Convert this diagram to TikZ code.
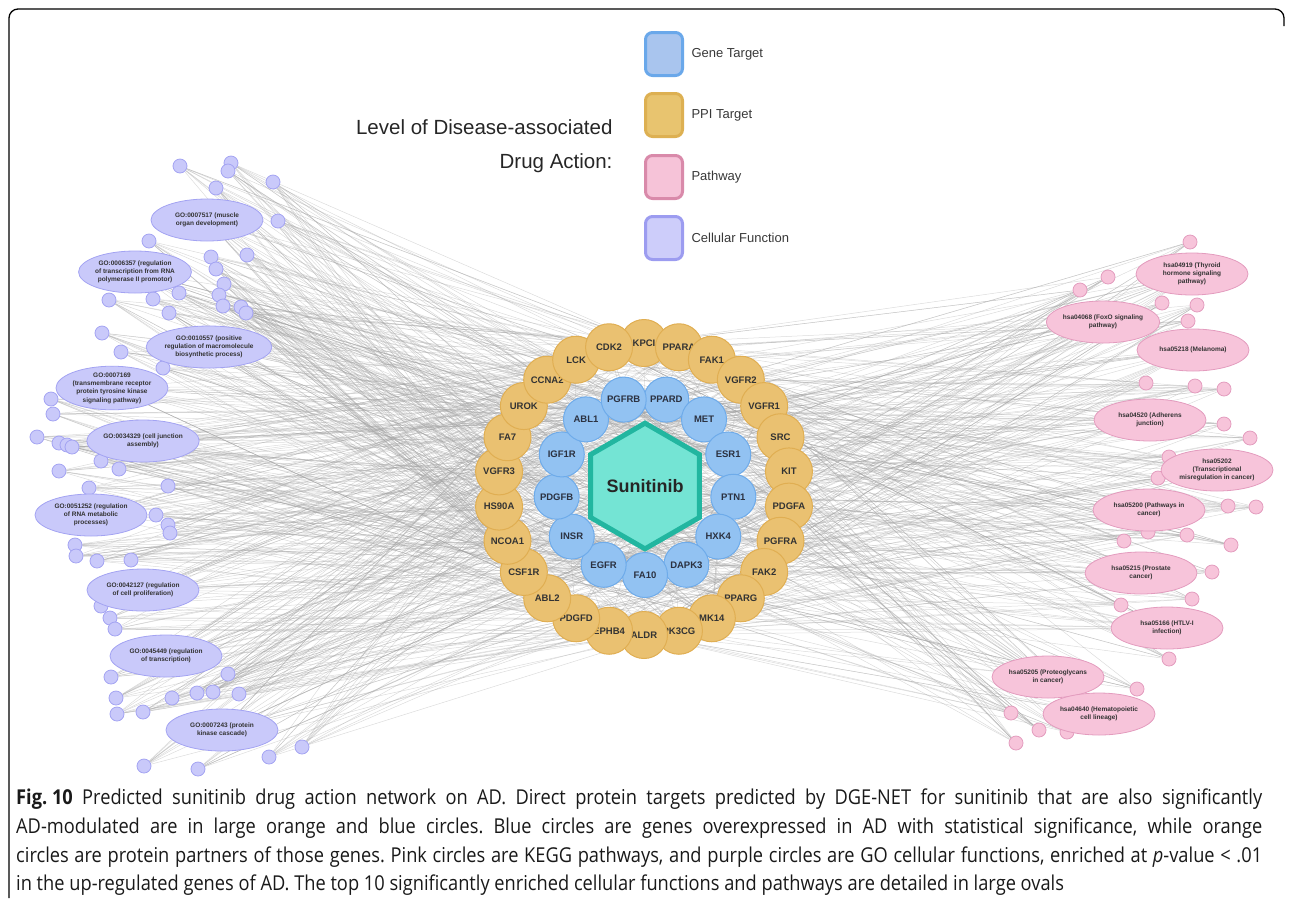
\documentclass[tikz,border=0pt]{standalone}
\usepackage{fontspec}
\setmainfont{Liberation Sans}
\newfontfamily\capfont[FakeStretch=0.89]{Open Sans}
\usetikzlibrary{shapes.geometric,calc}

\definecolor{genefill}{HTML}{92C2F2}
\definecolor{geneline}{HTML}{6EABEA}
\definecolor{ppifill}{HTML}{EAC171}
\definecolor{ppiline}{HTML}{E0AE52}
\definecolor{drugfill}{HTML}{74E4D4}
\definecolor{drugline}{HTML}{22B6A0}
\definecolor{keggfill}{HTML}{F7C4DA}
\definecolor{keggline}{HTML}{E39CBE}
\definecolor{gofill}{HTML}{C9C9FA}
\definecolor{goline}{HTML}{A3A3F2}
\definecolor{labtext}{HTML}{2B3140}
\definecolor{legblue}{HTML}{A9C5EE}
\definecolor{legblueline}{HTML}{6AA8EA}
\definecolor{legorange}{HTML}{E8C46F}
\definecolor{legorangeline}{HTML}{DDB052}
\definecolor{legpink}{HTML}{F6C3D8}
\definecolor{legpinkline}{HTML}{D98AAA}
\definecolor{legpurple}{HTML}{CDCDFA}
\definecolor{legpurpleline}{HTML}{9C9CF0}

\tikzset{
    gene/.style={circle, fill=genefill, draw=geneline, line width=1pt,
        minimum size=45pt, inner sep=0pt, text=labtext,
        font=\fontsize{9.5}{10}\selectfont\bfseries},
    ppi/.style={circle, fill=ppifill, draw=ppiline, line width=1pt,
        minimum size=47pt, inner sep=0pt, text=black!80,
        font=\fontsize{9.5}{10}\selectfont\bfseries},
    drug/.style={regular polygon, regular polygon sides=6,
        shape border rotate=30, minimum size=89pt, inner sep=0pt,
        fill=drugfill, draw=drugline, line width=5pt, text=black!85,
        font=\fontsize{18}{18}\selectfont\bfseries}
}
\tikzset{
    godot/.style={circle, fill=gofill, draw=goline, line width=.8pt,
        minimum size=14pt, inner sep=0pt},
    keggdot/.style={circle, fill=keggfill, draw=keggline, line width=.8pt,
        minimum size=14pt, inner sep=0pt},
    goterm/.style={ellipse, fill=gofill, draw=goline, line width=.8pt,
        minimum width=112pt, minimum height=42pt, inner sep=0pt,
        align=center, text=black!80,
        font=\fontsize{6.5}{8.3}\selectfont\bfseries},
    keggterm/.style={goterm, fill=keggfill, draw=keggline}
}
\tikzset{
    legbox/.style={rectangle, rounded corners=7pt, line width=3pt,
        minimum width=37pt, minimum height=43pt, inner sep=0pt},
    legtext/.style={text=black!78, font=\fontsize{13}{13}\selectfont},
    titletext/.style={text=black!85, align=right,
        font=\fontsize{20.5}{34}\selectfont},
    capline/.style={anchor=base west, inner sep=0pt, text=black!90,
        font=\capfont\fontsize{20.5}{22}\selectfont\frenchspacing}
}
\tikzset{
    every edge/.append style={draw=black!36, line width=.5pt,
        draw opacity=.38}
}
\pgfdeclarelayer{background}
\pgfsetlayers{background,main}

\begin{document}
\begin{tikzpicture}[x=1pt, y=-1pt]
  \useasboundingbox (0,0) rectangle (1292,898);
  \draw[line width=1.3pt, rounded corners=9pt]
    (9,898) -- (9,9) -- (1284,9) -- (1284,26);

  % legend
  \node (title) [titletext, anchor=east] at (616,146)
    {Level of Disease-associated\\Drug Action:};
  \node (lg1) [legbox, fill=legblue, draw=legblueline,
    label={[legtext, label distance=4pt]right:Gene Target}] at (664,54) {};
  \node (lg2) [legbox, fill=legorange, draw=legorangeline,
    label={[legtext, label distance=4pt]right:PPI Target}] at (664,115) {};
  \node (lg3) [legbox, fill=legpink, draw=legpinkline,
    label={[legtext, label distance=4pt]right:Pathway}] at (664,177) {};
  \node (lg4) [legbox, fill=legpurple, draw=legpurpleline,
    label={[legtext, label distance=4pt]right:Cellular Function}] at (664,238) {};

  % drug and its two rings of targets
  \node (sun) [drug] at (645,486) {Sunitinib};
  \coordinate (ringc) at (644,489);
  \foreach \lab [count=\i] in {KPCI,PPARA,FAK1,VGFR2,VGFR1,SRC,KIT,PDGFA,
      PGFRA,FAK2,PPARG,MK14,PK3CG,ALDR,EPHB4,PDGFD,ABL2,CSF1R,NCOA1,HS90A,
      VGFR3,FA7,UROK,CCNA2,LCK,CDK2}
    \node (o\i) [ppi, alias=r\i]
      at ($(ringc)+({90-(\i-1)*360/26}:146pt)$) {\lab};
  \foreach \lab [count=\i] in {PPARD,MET,ESR1,PTN1,HXK4,DAPK3,FA10,EGFR,
      INSR,PDGFB,IGF1R,ABL1,PGFRB} {
    \pgfmathtruncatemacro{\k}{\i+26}
    \node (b\i) [gene, alias=r\k]
      at ($(sun)+({76.15-(\i-1)*360/13}:89pt)$) {\lab};
  }

  % GO cellular functions
  \foreach \x/\y [count=\i] in {180/166,231/163,228/171,216/188,273/182,
      278/221,149/241,247/255,211/257,216/269,224/284,219/295,223/306,
      241/307,246/313,179/293,153/299,109/300,169/313,102/333,121/352,
      163/368,51/399,53/414,37/437,59/443,67/445,72/447,101/461,119/469,
      59/471,89/488,168/486,156/515,168/525,170/533,75/545,76/556,97/561,
      131/560,101/606,110/618,115/629,111/677,228/674,116/698,117/714,
      143/712,172/698,197/693,213/692,239/694,302/747,269/757,144/766,
      198/769}
    \node (gd\i) [godot] at (\x,\y) {};
  \node (go1) [goterm] at (207,220) {GO:0007517 (muscle\\organ development)};
  \node (go2) [goterm] at (135,272)
    {GO:0006357 (regulation\\of transcription from RNA\\polymerase II promotor)};
  \node (go3) [goterm] at (209,347)
    {GO:0010557 (positive\\regulation of macromolecule\\biosynthetic process)};
  \node (go4) [goterm] at (112,388)
    {GO:0007169\\(transmembrane receptor\\protein tyrosine kinase\\signaling pathway)};
  \node (go5) [goterm] at (143,441) {GO:0034329 (cell junction\\assembly)};
  \node (go6) [goterm] at (91,515)
    {GO:0051252 (regulation\\of RNA metabolic\\processes)};
  \node (go7) [goterm] at (143,590)
    {GO:0042127 (regulation\\of cell proliferation)};
  \node (go8) [goterm] at (166,656) {GO:0045449 (regulation\\of transcription)};
  \node (go9) [goterm] at (222,730) {GO:0007243 (protein\\kinase cascade)};

  % KEGG pathways
  \foreach \x/\y [count=\i] in {1190/242,1108/277,1080/290,1162/303,
      1197/305,1188/321,1146/383,1195/386,1224/389,1224/424,1250/438,
      1169/457,1158/478,1228/506,1256/507,1148/532,1124/541,1187/535,
      1231/545,1212/572,1192/599,1121/605,1169/659,1137/689,1011/713,
      1039/730,1067/732,1016/743}
    \node (kd\i) [keggdot] at (\x,\y) {};
  \node (hsa1) [keggterm] at (1192,274)
    {hsa04919 (Thyroid\\hormone signaling\\pathway)};
  \node (hsa2) [keggterm] at (1103,322) {hsa04068 (FoxO signaling\\pathway)};
  \node (hsa3) [keggterm] at (1193,350) {hsa05218 (Melanoma)};
  \node (hsa4) [keggterm] at (1150,420) {hsa04520 (Adherens\\junction)};
  \node (hsa5) [keggterm] at (1217,470)
    {hsa05202\\(Transcriptional\\misregulation in cancer)};
  \node (hsa6) [keggterm] at (1149,510) {hsa05200 (Pathways in\\cancer)};
  \node (hsa7) [keggterm] at (1141,573) {hsa05215 (Prostate\\cancer)};
  \node (hsa8) [keggterm] at (1167,628) {hsa05166 (HTLV-I\\infection)};
  \node (hsa9) [keggterm] at (1048,677) {hsa05205 (Proteoglycans\\in cancer)};
  \node (hsa10) [keggterm] at (1099,714) {hsa04640 (Hematopoietic\\cell lineage)};

  % interactions
  \begin{pgfonlayer}{background}
    \pgfmathsetseed{1310}
    \foreach \t in {1,...,39} \draw (sun) edge (r\t);
    \foreach \j in {1,...,50} {
      \pgfmathrandominteger{\a}{1}{13}
      \pgfmathrandominteger{\c}{1}{26}
      \draw (b\a) edge (o\c);
    }
    \foreach \i in {1,...,56}
      \foreach \j in {1,...,9} {
        \pgfmathrandominteger{\t}{1}{39}
        \draw (gd\i) edge (r\t);
      }
    \foreach \i in {1,...,28}
      \foreach \j in {1,...,9} {
        \pgfmathrandominteger{\t}{1}{39}
        \draw (kd\i) edge (r\t);
      }
    \foreach \i in {1,...,9}
      \foreach \j in {1,...,16} {
        \pgfmathrandominteger{\t}{1}{39}
        \draw (go\i) edge (r\t);
      }
    \foreach \i in {1,...,10}
      \foreach \j in {1,...,16} {
        \pgfmathrandominteger{\t}{1}{39}
        \draw (hsa\i) edge (r\t);
      }
  \end{pgfonlayer}

  % caption
  \node (cap1) [capline] at (16,804) {\makebox[1246pt][s]{\textbf{\mbox{Fig. 10}}
    Predicted sunitinib drug action network on AD. Direct protein targets
    predicted by DGE-NET for sunitinib that are also significantly}};
  \node (cap2) [capline] at (16,833) {\makebox[1246pt][s]{AD-modulated are
    in large orange and blue circles. Blue circles are genes overexpressed
    in AD with statistical significance, while orange}};
  \node (cap3) [capline] at (16,862) {\makebox[1246pt][s]{circles are
    protein partners of those genes. Pink circles are KEGG pathways, and
    purple circles are GO cellular functions, enriched at \textit{p}-value
    < .01}};
  \node (cap4) [capline] at (16,890) {in the up-regulated genes of AD. The
    top 10 significantly enriched cellular functions and pathways are
    detailed in large ovals};
\end{tikzpicture}
\end{document}
